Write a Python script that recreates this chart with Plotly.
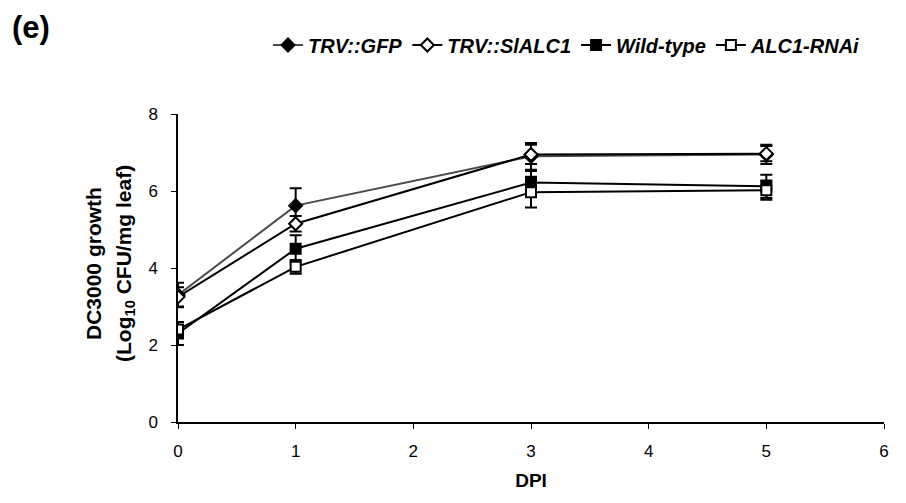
import plotly.graph_objects as go

# Bacterial growth (log10 CFU / mg leaf) over days post inoculation
dpi = [0, 1, 3, 5]

series_names = ["TRV::GFP", "TRV::SlALC1", "Wild-type", "ALC1-RNAi"]
gfp = [3.3, 5.62, 6.9, 6.95]
slalc1 = [3.25, 5.15, 6.95, 6.97]
wild_type = [2.3, 4.5, 6.22, 6.12]
alc1_rnai = [2.4, 4.03, 5.97, 6.02]

gfp_err = [0.32, 0.45, 0.35, 0.25]
slalc1_err = [0.25, 0.2, 0.25, 0.2]
wild_type_err = [0.3, 0.35, 0.3, 0.3]
alc1_rnai_err = [0.2, 0.18, 0.4, 0.25]

x_ticks = [0, 1, 2, 3, 4, 5, 6]
y_ticks = [0, 2, 4, 6, 8]

y_title_lines = ["DC3000 growth", "(Log<sub>10</sub> CFU/mg leaf)"]

font_family = "Liberation Sans, Arial, sans-serif"

styles = [
    dict(values=gfp, err=gfp_err, line="#4a4a4a", symbol="diamond", fill="black"),
    dict(values=slalc1, err=slalc1_err, line="black", symbol="diamond", fill="white"),
    dict(values=wild_type, err=wild_type_err, line="black", symbol="square", fill="black"),
    dict(values=alc1_rnai, err=alc1_rnai_err, line="black", symbol="square", fill="white"),
]

fig = go.Figure()
for name, st in zip(series_names, styles):
    fig.add_trace(go.Scatter(
        x=dpi,
        y=st["values"],
        name=f"<b><i>{name}</i></b>",
        mode="lines+markers",
        line=dict(color=st["line"], width=2),
        marker=dict(symbol=st["symbol"], size=10, color=st["fill"],
                    line=dict(color="black", width=2)),
        error_y=dict(type="data", array=st["err"], visible=True,
                     color="black", thickness=2, width=6),
    ))

plot_w = 906 - 178 - 22
plot_h = 503 - 114 - 81

fig.update_layout(
    width=906,
    height=503,
    margin=dict(l=178, r=22, t=114, b=81, autoexpand=False),
    paper_bgcolor="white",
    plot_bgcolor="white",
    font=dict(family=font_family, size=17, color="black"),
    showlegend=True,
    legend=dict(
        orientation="h",
        x=(567 - 178) / plot_w, xanchor="center",
        y=(503 - 81 - 45) / plot_h, yanchor="middle",
        font=dict(size=20, color="black"),
        bgcolor="rgba(0,0,0,0)",
        itemwidth=30,
        tracegroupgap=0,
    ),
    xaxis=dict(
        range=[0, 6],
        tickvals=x_ticks,
        ticks="outside",
        ticklen=5,
        tickwidth=1,
        tickcolor="black",
        ticklabelstandoff=8,
        showline=True,
        linecolor="black",
        linewidth=1.5,
        showgrid=False,
        zeroline=False,
        automargin=False,
        tickfont=dict(size=17),
        title=dict(text="<b>DPI</b>", font=dict(size=19), standoff=14),
    ),
    yaxis=dict(
        range=[0, 8],
        tickvals=y_ticks,
        ticks="outside",
        ticklen=5,
        tickwidth=1,
        tickcolor="black",
        ticklabelstandoff=10,
        showline=True,
        linecolor="black",
        linewidth=1.5,
        showgrid=False,
        zeroline=False,
        automargin=False,
        tickfont=dict(size=17),
    ),
)

# Two-line y-axis title, each line placed on its own
for text, xc in zip(y_title_lines, [93, 125]):
    fig.add_annotation(
        text=f"<b>{text}</b>",
        xref="paper", yref="paper",
        x=(xc - 178) / plot_w, y=(503 - 81 - 264) / plot_h,
        xanchor="center", yanchor="middle",
        textangle=-90,
        showarrow=False,
        font=dict(size=21, family=font_family, color="black"),
    )

fig.add_annotation(
    text="<b>(e)</b>",
    xref="paper", yref="paper",
    x=(10 - 178) / plot_w, y=(503 - 81 - 28) / plot_h,
    xanchor="left", yanchor="middle",
    showarrow=False,
    font=dict(size=31, family=font_family, color="black"),
)

fig.write_html("out.html")
